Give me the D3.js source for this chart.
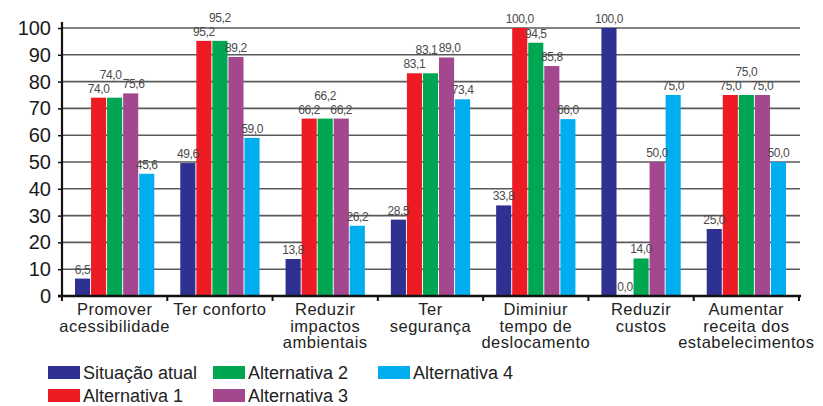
<!DOCTYPE html>
<html>
<head>
<meta charset="utf-8">
<script src="https://cdn.jsdelivr.net/npm/d3@7"></script>
<style>
  body { margin: 0; background: #fff; }
  text { font-family: "Liberation Sans", Arial, sans-serif; }
</style>
</head>
<body>
<div id="chart"></div>
<script>
const categories = [
    ["Promover", "acessibilidade"],
    ["Ter conforto"],
    ["Reduzir", "impactos", "ambientais"],
    ["Ter", "segurança"],
    ["Diminiur", "tempo de", "deslocamento"],
    ["Reduzir", "custos"],
    ["Aumentar", "receita dos", "estabelecimentos"]
];
const seriesNames = ["Situação atual", "Alternativa 1", "Alternativa 2", "Alternativa 3", "Alternativa 4"];
const situacaoAtual = [6.5, 49.6, 13.8, 28.5, 33.8, 100.0, 25.0];
const alternativa1 = [74.0, 95.2, 66.2, 83.1, 100.0, 0.0, 75.0];
const alternativa2 = [74.0, 95.2, 66.2, 83.1, 94.5, 14.0, 75.0];
const alternativa3 = [75.6, 89.2, 66.2, 89.0, 85.8, 50.0, 75.0];
const alternativa4 = [45.6, 59.0, 26.2, 73.4, 66.0, 75.0, 50.0];
const yTicks = [0, 10, 20, 30, 40, 50, 60, 70, 80, 90, 100];
const colors = ["#2e3192", "#ed1c24", "#00a651", "#a3478e", "#00aeef"];

const seriesValues = [situacaoAtual, alternativa1, alternativa2, alternativa3, alternativa4];

const width = 823, height = 406;
const plot = { left: 62, right: 799, top: 28, bottom: 296 };

const svg = d3.select("#chart").append("svg")
    .attr("width", width)
    .attr("height", height);

const catKeys = categories.map((c, i) => i);

const x = d3.scaleBand()
    .domain(catKeys)
    .range([plot.left, plot.right])
    .padding(0);

const xs = d3.scaleBand()
    .domain(d3.range(seriesNames.length))
    .range([13, x.bandwidth() - 13])
    .paddingInner(0.06);

const y = d3.scaleLinear()
    .domain([0, 100])
    .range([plot.bottom, plot.top]);

const color = d3.scaleOrdinal()
    .domain(seriesNames)
    .range(colors);

// gridlines
svg.append("g")
    .selectAll("line")
    .data(yTicks.filter(d => d > 0))
    .enter()
    .append("line")
    .attr("x1", plot.left)
    .attr("x2", plot.right + 1)
    .attr("y1", d => y(d))
    .attr("y2", d => y(d))
    .attr("stroke", "#5a5a5a")
    .attr("stroke-width", 1.6);

// bars
const groups = svg.append("g")
    .selectAll("g")
    .data(catKeys)
    .enter()
    .append("g")
    .attr("transform", d => `translate(${x(d)},0)`);

groups.selectAll("rect")
    .data(ci => seriesValues.map((vals, si) => ({ si, v: vals[ci] })))
    .enter()
    .append("rect")
    .attr("x", d => xs(d.si))
    .attr("y", d => y(d.v))
    .attr("width", xs.bandwidth())
    .attr("height", d => y(0) - y(d.v))
    .attr("fill", d => color(seriesNames[d.si]));

// value labels, raised when equal to the bar just before
groups.each(function(ci) {
    const g = d3.select(this);
    const labels = [];
    let prevRaised = false;
    seriesValues.forEach((vals, si) => {
        const v = vals[ci];
        let raise = false;
        if (si > 0 && seriesValues[si - 1][ci] === v && !prevRaised) raise = true;
        prevRaised = raise;
        labels.push({ si, v, cx: xs(si) + xs.bandwidth() / 2, ly: y(v) - 5 - (raise ? 14 : 0) });
    });
    // nudge neighbours that end up at about the same height
    for (let i = 1; i < labels.length; i++) {
        if (Math.abs(labels[i].ly - labels[i - 1].ly) < 10) {
            labels[i - 1].cx -= 4;
            labels[i].cx += 3;
        }
    }
    labels.forEach(l => {
        g.append("text")
            .attr("x", l.cx)
            .attr("y", l.ly)
            .attr("text-anchor", "middle")
            .style("font-size", "12px")
            .style("fill", "#4a4a4a")
            .style("letter-spacing", "-0.4px")
            .text(l.v.toFixed(1).replace(".", ","));
    });
});

// axes
const yAxis = d3.axisLeft(y).tickValues(yTicks).tickSize(4).tickFormat(d3.format("d"));
const yAxisGroup = svg.append("g")
    .attr("transform", `translate(${plot.left},0)`)
    .call(yAxis);
yAxisGroup.select(".domain").attr("stroke", "#111").attr("stroke-width", 2.2)
    .attr("d", `M0,${plot.top - 6}V${plot.bottom}`);
yAxisGroup.selectAll(".tick line").attr("stroke", "#111").attr("stroke-width", 1.5);
yAxisGroup.selectAll("text")
    .attr("x", -11)
    .style("font-size", "20px")
    .style("font-family", "'Liberation Sans', Arial, sans-serif")
    .style("fill", "#1a1a1a");

const xAxisGroup = svg.append("g");
xAxisGroup.append("line")
    .attr("x1", plot.left - 4)
    .attr("x2", plot.right + 2)
    .attr("y1", y(0))
    .attr("y2", y(0))
    .attr("stroke", "#111")
    .attr("stroke-width", 2.4);
xAxisGroup.selectAll("line.tk")
    .data(catKeys.map(d => x(d)).concat([plot.right]))
    .enter()
    .append("line")
    .attr("class", "tk")
    .attr("x1", d => d)
    .attr("x2", d => d)
    .attr("y1", y(0))
    .attr("y2", y(0) + 5)
    .attr("stroke", "#111")
    .attr("stroke-width", 2);

// category labels
const catLabels = svg.append("g")
    .selectAll("text")
    .data(catKeys)
    .enter()
    .append("text")
    .attr("text-anchor", "middle")
    .attr("x", d => x(d) + x.bandwidth() / 2)
    .attr("y", 315)
    .style("font-size", "16.5px")
    .style("letter-spacing", "0.5px")
    .style("fill", "#222");
catLabels.selectAll("tspan")
    .data(d => categories[d])
    .enter()
    .append("tspan")
    .attr("x", function() { return this.parentNode.getAttribute("x"); })
    .attr("dy", (d, i) => i === 0 ? 0 : 16.5)
    .text(d => d);

// legend (column-major, 2 rows)
const legendCols = [48, 213, 378];
const legend = svg.append("g");
seriesNames.forEach((name, i) => {
    const col = Math.floor(i / 2), row = i % 2;
    const lx = legendCols[col], ly = 366 + row * 23;
    legend.append("rect")
        .attr("x", lx)
        .attr("y", ly)
        .attr("width", 32)
        .attr("height", 13)
        .attr("fill", color(name));
    legend.append("text")
        .attr("x", lx + 35)
        .attr("y", ly + 13)
        .style("font-size", "18px")
        .style("fill", "#222")
        .text(name);
});
</script>
</body>
</html>
